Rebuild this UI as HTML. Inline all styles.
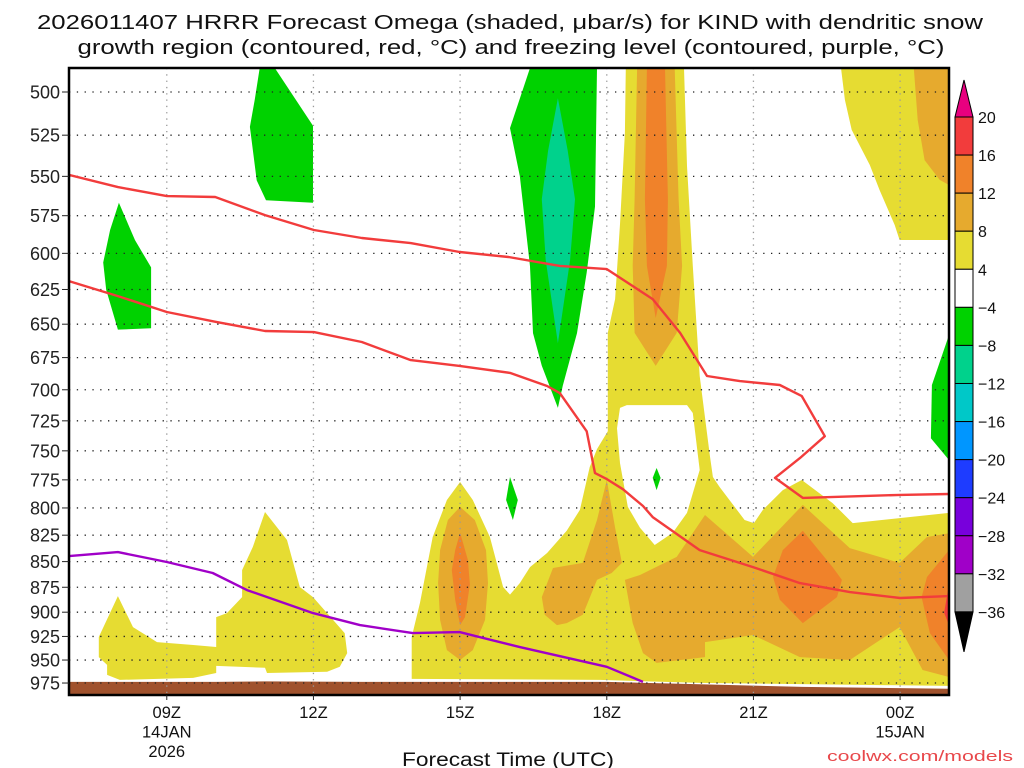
<!DOCTYPE html>
<html><head><meta charset="utf-8"><style>
html,body{margin:0;padding:0;background:#fff;}
svg{display:block;font-family:"Liberation Sans",sans-serif;}
</style></head><body>
<svg id="chart" width="1024" height="768" viewBox="0 0 1024 768" xmlns="http://www.w3.org/2000/svg">
<text x="510" y="29" text-anchor="middle" font-size="20" fill="#111" textLength="946" lengthAdjust="spacingAndGlyphs">2026011407 HRRR Forecast Omega (shaded, μbar/s) for KIND with dendritic snow</text>
<text x="511" y="54" text-anchor="middle" font-size="20" fill="#111" textLength="867" lengthAdjust="spacingAndGlyphs">growth region (contoured, red, °C) and freezing level (contoured, purple, °C)</text>
<g id="shading"></g>
<g id="grid"></g>
<g id="lines"></g>
<g id="axes"></g>
<g id="cbar"></g>
<text x="508" y="766" text-anchor="middle" font-size="19" fill="#111" textLength="212" lengthAdjust="spacingAndGlyphs">Forecast Time (UTC)</text>
<text x="827" y="761" font-size="15" fill="#e8474a" textLength="186" lengthAdjust="spacingAndGlyphs">coolwx.com/models</text>
</svg>
<script>
// axis domains: hours since 14JAN 00Z, pressure hPa (log scale)
const hourDomain = [7, 25];
const presDomain = [486.6, 988.3];
const presTicks = [500,525,550,575,600,625,650,675,700,725,750,775,800,825,850,875,900,925,950,975];
const timeTicks = [9,12,15,18,21,24];
const timeLabels = [["09Z","14JAN","2026"],["12Z"],["15Z"],["18Z"],["21Z"],["00Z","15JAN"]];
const cbarLevels = [20,16,12,8,4,-4,-8,-12,-16,-20,-24,-28,-32,-36];
const cbarColors = ["#f23c3c","#f0822a","#e6aa2e","#e6dc32","#ffffff","#00d200","#00d28c","#00c8c8","#0096ff","#1e3cff","#7800dc","#a000c8","#a0a0a0"];

// shaded omega regions: [hour, hPa]
const yellowLeft = [[7.61,925.6],[8.0,883.8],[8.31,915.3],[8.8,930.9],[9.54,934.0],[10.01,936.1],[10.01,905.0],[10.23,900.9],[10.54,884.8],[10.54,858.2],[10.76,836.1],[11.01,803.7],[11.46,829.5],[11.72,874.7],[11.99,884.8],[12.28,900.9],[12.64,921.5],[12.69,942.6],[12.54,957.3],[12.28,962.7],[11.05,964.0],[11.01,958.4],[10.01,956.3],[10.01,964.0],[9.54,969.4],[8.04,971.6],[7.78,966.1],[7.78,955.2],[7.61,946.8]];
const yellowMain = [[14.01,970.5],[14.01,925.6],[14.18,890.5],[14.44,826.7],[14.73,792.8],[15.0,776.9],[15.26,792.8],[15.61,826.7],[15.88,874.7],[16.02,882.3],[16.22,870.9],[16.43,855.3],[16.78,841.8],[17.18,820.9],[17.45,801.8],[17.65,763.9],[17.8,748.5],[18.02,733.6],[18.02,656.4],[18.17,631.8],[18.27,580.5],[18.37,523.7],[18.39,486.6],[19.58,486.6],[19.64,543.6],[19.76,608.6],[19.9,689.2],[20.11,754.3],[20.17,772.5],[20.31,781.4],[20.82,811.0],[21.01,813.8],[21.19,801.9],[21.6,784.0],[21.99,775.1],[22.62,795.6],[23.03,813.8],[25,804.5],[25,978.2],[19.9,974.9],[17.86,971.6]];
const yellowTopRight = [[22.79,486.6],[22.87,504.5],[23.01,521.9],[23.38,543.0],[23.58,558.6],[23.89,581.1],[23.99,591.0],[25,591.0],[25,486.6]];
const whiteHole = [[18.21,731.1],[18.27,714.5],[18.41,712.2],[19.64,712.2],[19.76,718.6],[19.9,766.4],[19.64,804.5],[19.35,822.7],[18.98,834.2],[18.68,818.1],[18.43,799.0],[18.27,760.5]];
const orangeColumn = [[18.62,486.6],[18.57,564.3],[18.53,608.6],[18.57,656.4],[19.0,681.4],[19.43,656.4],[19.54,608.6],[19.47,564.3],[19.39,486.6]];
const darkColumn = [[18.82,486.6],[18.78,564.3],[18.82,608.6],[19.0,645.5],[19.23,608.6],[19.25,564.3],[19.19,486.6]];
const orangeTopRight = [[24.28,486.6],[24.36,516.1],[24.5,540.0],[24.81,552.2],[25,555.4],[25,486.6]];
const orange15z = [[15.0,799.0],[15.3,811.0],[15.53,839.0],[15.57,870.9],[15.51,908.0],[15.26,939.4],[15.0,950.0],[14.73,939.4],[14.59,908.0],[14.55,870.9],[14.59,839.0],[14.75,811.0]];
const dark15z = [[15.0,822.7],[15.16,848.5],[15.2,872.3],[15.1,905.0],[15.0,913.2],[14.9,887.4],[14.83,858.2],[14.9,839.0]];
const orange18z = [[16.67,884.8],[16.9,856.2],[17.51,851.2],[17.8,811.0],[18.0,775.1],[18.17,818.1],[18.31,851.2],[18.1,861.0],[17.8,867.8],[17.51,902.7],[17.18,911.2],[16.98,913.2],[16.73,902.7]];
const orangeBand = [[18.37,867.8],[18.68,863.0],[19.43,845.5],[20.01,806.4],[20.99,845.5],[22.01,797.2],[22.97,837.1],[23.99,851.2],[24.55,826.7],[25,823.2],[25,968.4],[24.46,960.7],[23.99,915.3],[22.97,950.0],[21.95,946.8],[20.99,923.5],[20.01,930.9],[20.01,946.8],[19.02,953.1],[18.74,942.6],[18.53,911.2]];
const darkDiamond = [[22.01,820.9],[22.62,855.3],[22.81,867.8],[22.71,884.8],[22.01,911.2],[21.54,887.4],[21.4,864.9],[21.6,839.0]];
const darkRight = [[25,839.0],[24.55,864.9],[24.44,884.8],[24.61,921.5],[25,950.0]];
const redSliver = [[25,872.3],[24.9,900.6],[25,913.2]];
const greenA = [[8.02,566.7],[8.35,591.1],[8.68,609.6],[8.68,653.0],[8.0,654.0],[7.76,625.3],[7.70,606.2],[7.84,584.4]];
const greenB = [[10.9,486.6],[11.21,486.6],[11.99,519.4],[11.99,566.7],[11.03,565.1],[10.84,552.5],[10.7,520.1],[10.8,504.2]];
const greenC = [[16.43,486.6],[16.02,520.8],[16.22,549.8],[16.43,608.8],[16.49,656.6],[16.67,681.2],[17.0,714.5],[17.1,696.7],[17.39,656.6],[17.59,613.1],[17.76,569.1],[17.8,486.6]];
const tealC = [[17.0,503.5],[17.2,534.2],[17.35,564.3],[17.25,604.5],[17.0,664.2],[16.75,604.5],[16.67,564.3],[16.8,534.2]];
const greenSmall1 = [[16.02,772.5],[16.18,792.8],[16.08,811.0],[15.94,792.8]];
const greenSmall2 = [[19.02,764.7],[19.1,773.3],[19.02,784.0],[18.94,773.3]];
const greenRight = [[25,658.0],[24.65,696.2],[24.63,739.4],[25,757.8]];
const groundTop = [[7,973.8],[10,973.8],[11,973.2],[13,973.8],[18,973.8],[20,976.5],[22,979.3],[25,981.3]];

// contour lines
const dgzUpper = [[7,549.1],[8,556.7],[9,562.4],[9.99,563.0],[11.01,574.6],[12.01,584.4],[12.99,589.7],[13.99,593.1],[14.99,599.1],[15.99,602.5],[17.04,608.6],[18.0,610.8],[18.94,631.8],[19.5,656.4],[20.05,689.2],[20.72,693.2],[21.54,696.2],[21.99,705.0],[22.46,737.7],[21.95,756.2],[21.44,773.3],[22.01,791.0],[24.0,788.3],[25,787.5]];
const dgzLower = [[7,619.1],[8,629.7],[9,641.1],[10.01,648.3],[11.01,655.0],[12.01,655.8],[12.99,663.2],[13.99,676.9],[14.99,681.4],[16.02,686.8],[16.78,697.0],[17.04,702.6],[17.59,733.6],[17.76,769.1],[18.0,774.3],[18.33,783.2],[18.74,798.2],[18.94,808.3],[19.9,839.0],[20.99,855.3],[21.95,870.9],[22.97,879.8],[24.0,885.7],[25,883.8]];
const freezingLevel = [[7,844.7],[8,840.9],[9,850.4],[9.94,861.0],[10.64,877.8],[11.99,900.9],[12.95,913.2],[14.03,921.5],[14.99,920.5],[16.22,936.2],[18.0,957.3],[18.74,973.8]];

const L = 69, R = 949, T = 68, B = 695;
const NS = "http://www.w3.org/2000/svg";
function xs(h){ return L + (h - hourDomain[0]) * (R - L) / (hourDomain[1] - hourDomain[0]); }
function ys(p){ return 92 + 885 * Math.log(p / 500); }
function mk(tag, attrs, parent){ const e = document.createElementNS(NS, tag); for (const k in attrs) e.setAttribute(k, attrs[k]); parent.appendChild(e); return e; }
function pts(arr){ return arr.map(d => xs(d[0]).toFixed(1) + "," + ys(d[1]).toFixed(1)).join(" "); }

const shading = document.getElementById("shading");
const plotClip = mk("clipPath", {id:"plotclip"}, mk("defs", {}, document.getElementById("chart")));
mk("rect", {x:L, y:T, width:R-L, height:B-T}, plotClip);
shading.setAttribute("clip-path", "url(#plotclip)");
const regions = [
  ["yellow-left", yellowLeft, "#e6dc32"], ["yellow-main", yellowMain, "#e6dc32"], ["yellow-top-right", yellowTopRight, "#e6dc32"],
  ["white-hole", whiteHole, "#ffffff"],
  ["orange-column", orangeColumn, "#e6aa2e"], ["dark-orange-column", darkColumn, "#f0822a"], ["orange-top-right", orangeTopRight, "#e6aa2e"],
  ["orange-15z", orange15z, "#e6aa2e"], ["dark-orange-15z", dark15z, "#f0822a"], ["orange-18z", orange18z, "#e6aa2e"],
  ["orange-band", orangeBand, "#e6aa2e"], ["dark-orange-diamond", darkDiamond, "#f0822a"], ["dark-orange-right", darkRight, "#f0822a"],
  ["red-sliver", redSliver, "#f23c3c"],
  ["green-a", greenA, "#00d200"], ["green-b", greenB, "#00d200"], ["green-c", greenC, "#00d200"], ["teal-c", tealC, "#00d28c"],
  ["green-small-1", greenSmall1, "#00d200"], ["green-small-2", greenSmall2, "#00d200"], ["green-right", greenRight, "#00d200"]
];
regions.forEach(r => {
  const e = mk("polygon", {points: pts(r[1]), fill: r[2]}, shading);
  
  
});
const gpts = groundTop.slice(); gpts.push([25, 995]); gpts.push([7, 995]);
const ground = mk("polygon", {points: pts(gpts), fill: "#a0522d"}, shading);



const grid = document.getElementById("grid");
presTicks.forEach(p => {
  const e = mk("line", {x1:L, x2:R, y1:ys(p), y2:ys(p), stroke:"#222", "stroke-width":1.3, "stroke-dasharray":"1.3 6.5"}, grid);
  
  
});
timeTicks.forEach(h => {
  const e = mk("line", {x1:xs(h), x2:xs(h), y1:T, y2:B, stroke:"#999", "stroke-width":1.3, "stroke-dasharray":"1.3 5"}, grid);
  
  
});

const lines = document.getElementById("lines");
lines.setAttribute("clip-path", "url(#plotclip)");
[["dgz-upper-line", dgzUpper, "#f23c3c"], ["dgz-lower-line", dgzLower, "#f23c3c"], ["freezing-level-line", freezingLevel, "#a000c8"]].forEach(s => {
  const e = mk("polyline", {points: pts(s[1]), fill:"none", stroke:s[2], "stroke-width":2.4, "stroke-linejoin":"round"}, lines);
  
  
});

const axes = document.getElementById("axes");
const frame = mk("rect", {x:L, y:T, width:R-L, height:B-T, fill:"none", stroke:"#000", "stroke-width":2.5}, axes);


presTicks.forEach(p => {
  mk("line", {x1:L-7, x2:L, y1:ys(p), y2:ys(p), stroke:"#222", "stroke-width":1}, axes);
  const t = mk("text", {x:L-9, y:ys(p)+6.5, "text-anchor":"end", "font-size":18, fill:"#222"}, axes);
  t.textContent = p;
  
  
});
timeTicks.forEach((h, i) => {
  mk("line", {x1:xs(h), x2:xs(h), y1:B, y2:B+5, stroke:"#222", "stroke-width":1}, axes);
  timeLabels[i].forEach((s, j) => {
    const t = mk("text", {x:xs(h), y:718 + j*19.5, "text-anchor":"middle", "font-size":16.5, fill:"#111"}, axes);
    t.textContent = s;
    
    
  });
});

const cbar = document.getElementById("cbar");
const cx = 955, cw = 18, cTop = 117, step = 38.07;
const triTop = mk("polygon", {points: `${cx},${cTop} ${cx+cw},${cTop} ${cx+cw/2},${cTop-37}`, fill:"#e8007f", stroke:"#000", "stroke-width":1}, cbar);


cbarColors.forEach((c, i) => {
  const r = mk("rect", {x:cx, y:cTop + i*step, width:cw, height:step, fill:c, stroke:"#000", "stroke-width":1}, cbar);
  
  
});
const triBot = mk("polygon", {points: `${cx},${cTop+13*step} ${cx+cw},${cTop+13*step} ${cx+cw/2},${cTop+13*step+40}`, fill:"#000", stroke:"#000", "stroke-width":1}, cbar);


cbarLevels.forEach((v, i) => {
  const t = mk("text", {x:978, y:cTop + i*step + 6, "font-size":16, fill:"#111"}, cbar);
  t.textContent = v < 0 ? "\u2212" + Math.abs(v) : String(v);
  
  
});
</script>
</body></html>
